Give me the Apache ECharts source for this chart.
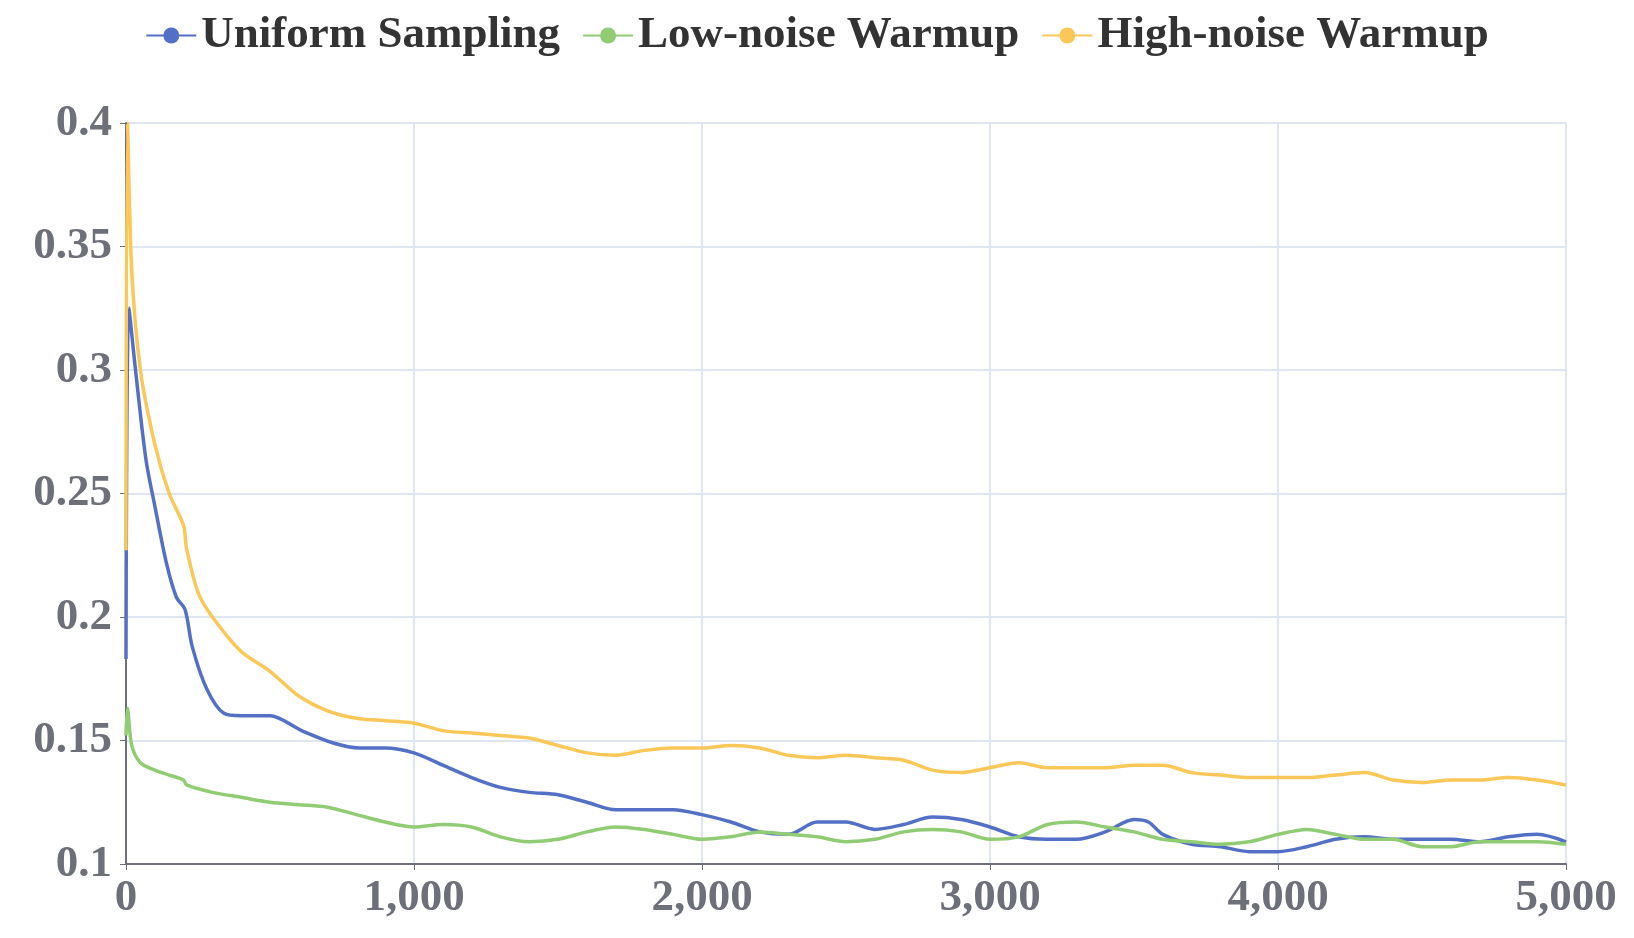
<!DOCTYPE html><html><head><meta charset="utf-8"><script src="https://cdn.jsdelivr.net/npm/echarts@6/dist/echarts.min.js"></script>
<style>html,body{margin:0;background:#fff}#c{width:1634px;height:938px}</style></head><body><div id="c"></div><script>
const uniX=[0,10,33,69,100,140,175,205,230,280,340,400,500,610,720,810,900,1000,1100,1200,1300,1400,1500,1600,1700,1800,1900,2000,2100,2200,2300,2400,2500,2600,2700,2800,2900,3000,3100,3200,3300,3400,3500,3550,3600,3700,3800,3900,4000,4100,4200,4300,4400,4500,4600,4700,4800,4900,5000];
const uniY=[0.183,0.325,0.300,0.264,0.245,0.222,0.208,0.203,0.188,0.171,0.161,0.160,0.160,0.154,0.149,0.147,0.147,0.145,0.140,0.135,0.131,0.129,0.128,0.125,0.122,0.122,0.122,0.120,0.117,0.113,0.112,0.117,0.117,0.114,0.116,0.119,0.118,0.115,0.111,0.110,0.110,0.113,0.118,0.117,0.112,0.108,0.107,0.105,0.105,0.107,0.110,0.111,0.110,0.110,0.110,0.109,0.111,0.112,0.109];
const lowX=[0,5,20,50,100,150,200,210,300,400,500,600,700,800,900,1000,1100,1200,1300,1400,1500,1600,1700,1800,1900,2000,2100,2200,2300,2400,2500,2600,2700,2800,2900,3000,3100,3200,3300,3400,3500,3600,3700,3800,3900,4000,4100,4200,4300,4400,4500,4600,4700,4800,4900,5000];
const lowY=[0.152,0.163,0.148,0.141,0.138,0.136,0.134,0.132,0.129,0.127,0.125,0.124,0.123,0.120,0.117,0.115,0.116,0.115,0.111,0.109,0.110,0.113,0.115,0.114,0.112,0.110,0.111,0.113,0.112,0.111,0.109,0.110,0.113,0.114,0.113,0.110,0.111,0.116,0.117,0.115,0.113,0.110,0.109,0.108,0.109,0.112,0.114,0.112,0.110,0.110,0.107,0.107,0.109,0.109,0.109,0.108];
const highX=[0,5,20,50,100,150,200,210,250,300,400,500,600,700,800,900,1000,1100,1200,1300,1400,1500,1600,1700,1800,1900,2000,2100,2200,2300,2400,2500,2600,2700,2800,2900,3000,3100,3200,3300,3400,3500,3600,3700,3800,3900,4000,4100,4200,4300,4400,4500,4600,4700,4800,4900,5000];
const highY=[0.227,0.400,0.340,0.300,0.270,0.250,0.237,0.228,0.210,0.200,0.186,0.178,0.168,0.162,0.159,0.158,0.157,0.154,0.153,0.152,0.151,0.148,0.145,0.144,0.146,0.147,0.147,0.148,0.147,0.144,0.143,0.144,0.143,0.142,0.138,0.137,0.139,0.141,0.139,0.139,0.139,0.140,0.140,0.137,0.136,0.135,0.135,0.135,0.136,0.137,0.134,0.133,0.134,0.134,0.135,0.134,0.132];
const names=['Uniform Sampling','Low-noise Warmup','High-noise Warmup'];
const zip=(a,b)=>a.map((v,i)=>[v,b[i]]);
const font={fontFamily:'Liberation Serif',fontWeight:'bold',fontSize:45,color:'#6e7079'};
const c=echarts.init(document.getElementById('c'));
c.setOption({animation:false,color:['#5470c6','#91cc75','#fac858'],
legend:{top:8,left:'center',itemWidth:50,itemHeight:20,itemGap:22,textStyle:{...font,color:'#333',fontSize:45}},
grid:{left:126,right:68,top:123,bottom:74},
xAxis:{type:'value',min:0,max:5000,interval:1000,axisLabel:{...font,margin:12},splitLine:{lineStyle:{color:'#e0e6f1',width:2}},axisLine:{lineStyle:{color:'#6e7079',width:2}},axisTick:{show:true,length:6,lineStyle:{color:'#6e7079'}}},
yAxis:{type:'value',min:0.1,max:0.4,interval:0.05,axisLabel:{...font,margin:14},splitLine:{lineStyle:{color:'#e0e6f1',width:2}},axisLine:{show:true,lineStyle:{color:'#6e7079',width:2}},axisTick:{show:true,length:6,lineStyle:{color:'#6e7079'}}},
series:[[uniX,uniY],[lowX,lowY],[highX,highY]].map((d,i)=>({name:names[i],type:'line',data:zip(d[0],d[1]),smooth:0.3,showSymbol:false,symbol:'circle',lineStyle:{width:3.5}}))
});
</script></body></html>
